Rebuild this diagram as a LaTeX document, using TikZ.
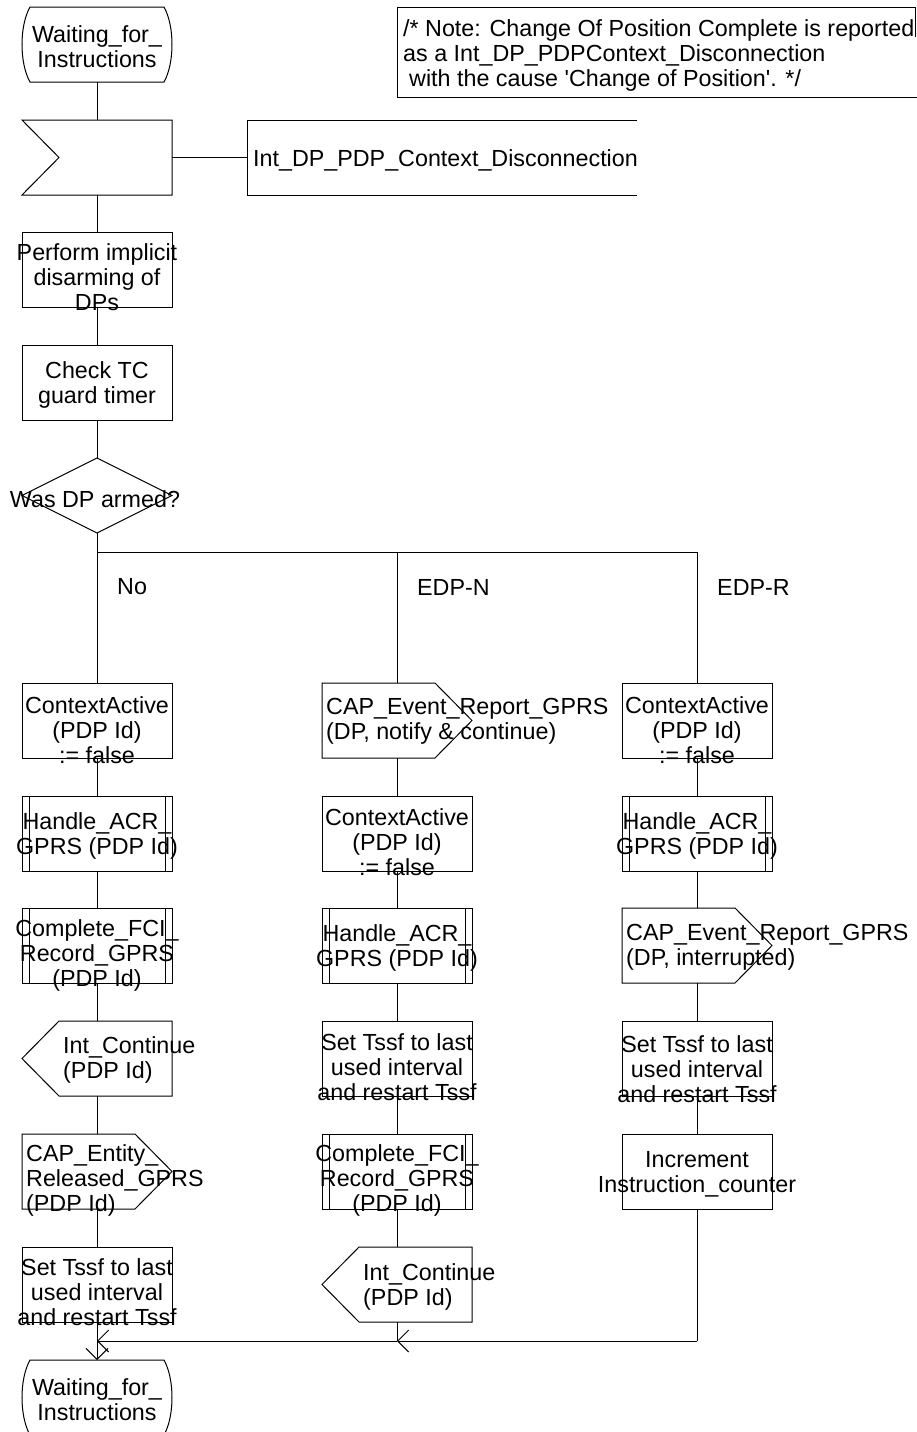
\documentclass[tikz,border=0pt]{standalone}
\usepackage{fontspec}
\newfontfamily\diafont{Liberation Sans}
\usetikzlibrary{arrows.meta}
\tikzset{
  ln/.style={line width=1pt, draw=black},
  sh/.style={minimum width=150pt, minimum height=75pt, inner sep=0pt, outer sep=0pt},
  rbox/.style={sh, draw=black, line width=1pt},
  tx/.style={font=\diafont\fontsize{23.3}{25}\selectfont, align=center, inner sep=0pt},
  txl/.style={font=\diafont\fontsize{23.3}{25}\selectfont, align=left, anchor=west, inner sep=0pt},
  arr/.style={-{Straight Barb[length=11pt,width=22pt]}},
}
\newcommand\sdlstate[1]{\draw[ln] ([shift={(8,0)}]#1.north west) -- ([shift={(-8,0)}]#1.north east)
  .. controls ([shift={(2.67,19)}]#1.north east) and ([shift={(2.67,-19)}]#1.south east) .. ([shift={(-8,0)}]#1.south east)
  -- ([shift={(8,0)}]#1.south west)
  .. controls ([shift={(-2.67,-19)}]#1.south west) and ([shift={(-2.67,19)}]#1.north west) .. ([shift={(8,0)}]#1.north west) -- cycle;}
\newcommand\sdlinput[1]{\draw[ln] (#1.north west) -- (#1.north east) -- (#1.south east) -- (#1.south west) -- ([shift={(37,0)}]#1.west) -- cycle;}
\newcommand\sdloutL[1]{\draw[ln] ([shift={(37,0)}]#1.north west) -- (#1.north east) -- (#1.south east) -- ([shift={(37,0)}]#1.south west) -- (#1.west) -- cycle;}
\newcommand\sdloutR[1]{\draw[ln] (#1.north west) -- ([shift={(-37,0)}]#1.north east) -- (#1.east) -- ([shift={(-37,0)}]#1.south east) -- (#1.south west) -- cycle;}
\newcommand\sdlproc[1]{\draw[ln] (#1.north west) rectangle (#1.south east);
  \draw[ln] ([shift={(7,0)}]#1.north west) -- ([shift={(7,0)}]#1.south west);
  \draw[ln] ([shift={(-7,0)}]#1.north east) -- ([shift={(-7,0)}]#1.south east);}
\newcommand\sdldec[1]{\draw[ln] (#1.north) -- (#1.east) -- (#1.south) -- (#1.west) -- cycle;}
\begin{document}
\begin{tikzpicture}[x=1pt,y=-1pt]
\useasboundingbox (0,0) rectangle (917,1432);
% ---------- top part ----------
\node[sh] (s1) at (97,44.5) {}; \sdlstate{s1}
\node[tx] (s1t) at (97,46.5) {Waiting\_for\_\\Instructions};
\node[sh] (in1) at (97,157.5) {}; \sdlinput{in1}
\node[sh, minimum width=390pt] (te) at (442,157.5) {};
\draw[ln] (te.north east) -- (te.north west) -- (te.south west) -- (te.south east);
\node[txl] (tet) at (253,160) {Int\_DP\_PDP\_Context\_Disconnection};
\node[sh, minimum width=518pt, minimum height=90pt] (nb) at (656,52) {};
\draw[ln] ([shift={(0,30)}]nb.north east) -- (nb.north east) -- (nb.north west) -- (nb.south west) -- ([shift={(3,0)}]nb.south east);
\node[txl] (nbt) at (403,55) {/* Note: Change Of Position Complete is reported\\as a Int\_DP\_PDPContext\_Disconnection\\\hspace*{6pt}with the cause 'Change of Position'. */};
\node[rbox] (t1) at (97,269.5) {};
\node[tx] (t1t) at (97,277) {Perform implicit\\disarming of\\DPs};
\node[rbox] (t2) at (97,382.5) {};
\node[tx] (t2t) at (97,384.5) {Check TC\\guard timer};
\node[sh] (dec) at (97,495.5) {}; \sdldec{dec}
\node[tx] (dect) at (95,499) {Was DP armed?};
\draw[ln] (s1) -- (in1);
\draw[ln] (in1) -- (te);
\draw[ln] (in1) -- (t1);
\draw[ln] (t1) -- (t2);
\draw[ln] (t2) -- (dec);
% ---------- branching ----------
\coordinate (b1) at (97,552);
\coordinate (b2) at (397,552);
\coordinate (b3) at (697,552);
\node[txl] (lno) at (117,587) {No};
\node[txl] (ln2) at (417,587) {EDP-N};
\node[txl] (ln3) at (717,587) {EDP-R};
% ---------- column 1 ----------
\node[rbox] (c1a) at (97,720.5) {};
\node[tx] (c1at) at (97,730) {ContextActive\\(PDP Id)\\:= false};
\node[sh] (c1b) at (97,833.5) {}; \sdlproc{c1b}
\node[tx] (c1bt) at (97,835.5) {Handle\_ACR\_\\GPRS (PDP Id)};
\node[sh] (c1c) at (97,945.5) {}; \sdlproc{c1c}
\node[tx] (c1ct) at (97,955) {Complete\_FCI\_\\Record\_GPRS\\(PDP Id)};
\node[sh] (c1d) at (97,1058.5) {}; \sdloutL{c1d}
\node[txl] (c1dt) at (63,1060) {Int\_Continue\\(PDP Id)};
\node[sh] (c1e) at (97,1171.5) {}; \sdloutR{c1e}
\node[txl] (c1et) at (26,1180) {CAP\_Entity\_\\Released\_GPRS\\(PDP Id)};
\node[rbox] (c1f) at (97,1284.5) {};
\node[tx] (c1ft) at (97,1292) {Set Tssf to last\\used interval\\and restart Tssf};
\node[sh] (s2) at (97,1397.5) {}; \sdlstate{s2}
\node[tx] (s2t) at (97,1399.5) {Waiting\_for\_\\Instructions};
% ---------- column 2 ----------
\node[sh] (c2a) at (397,720.5) {}; \sdloutR{c2a}
\node[txl] (c2at) at (326,721.5) {CAP\_Event\_Report\_GPRS\\(DP, notify \& continue)};
\node[rbox] (c2b) at (397,833.5) {};
\node[tx] (c2bt) at (397,842) {ContextActive\\(PDP Id)\\:= false};
\node[sh] (c2c) at (397,945.5) {}; \sdlproc{c2c}
\node[tx] (c2ct) at (397,947.5) {Handle\_ACR\_\\GPRS (PDP Id)};
\node[rbox] (c2d) at (397,1058.5) {};
\node[tx] (c2dt) at (397,1067) {Set Tssf to last\\used interval\\and restart Tssf};
\node[sh] (c2e) at (397,1171.5) {}; \sdlproc{c2e}
\node[tx] (c2et) at (397,1180) {Complete\_FCI\_\\Record\_GPRS\\(PDP Id)};
\node[sh] (c2f) at (397,1284.5) {}; \sdloutL{c2f}
\node[txl] (c2ft) at (363,1286.5) {Int\_Continue\\(PDP Id)};
% ---------- column 3 ----------
\node[rbox] (c3a) at (697,720.5) {};
\node[tx] (c3at) at (697,730) {ContextActive\\(PDP Id)\\:= false};
\node[sh] (c3b) at (697,833.5) {}; \sdlproc{c3b}
\node[tx] (c3bt) at (697,835.5) {Handle\_ACR\_\\GPRS (PDP Id)};
\node[sh] (c3c) at (697,945.5) {}; \sdloutR{c3c}
\node[txl] (c3ct) at (626,947.5) {CAP\_Event\_Report\_GPRS\\(DP, interrupted)};
\node[rbox] (c3d) at (697,1058.5) {};
\node[tx] (c3dt) at (697,1069) {Set Tssf to last\\used interval\\and restart Tssf};
\node[rbox] (c3e) at (697,1171.5) {};
\node[tx] (c3et) at (697,1174.5) {Increment\\Instruction\_counter};
% ---------- connectors ----------
\draw[ln] (dec.south) -- (b1) -- (b3);
\draw[ln] (b1) -- (c1a.north);
\draw[ln] (b2) -- (c2a.north);
\draw[ln] (b3) -- (c3a.north);
\draw[ln] (c1a) -- (c1b);
\draw[ln] (c1b) -- (c1c);
\draw[ln] (c1c) -- (c1d);
\draw[ln] (c1d) -- (c1e);
\draw[ln] (c1e) -- (c1f);
\draw[ln] (c2a) -- (c2b);
\draw[ln] (c2b) -- (c2c);
\draw[ln] (c2c) -- (c2d);
\draw[ln] (c2d) -- (c2e);
\draw[ln] (c2e) -- (c2f);
\draw[ln] (c3a) -- (c3b);
\draw[ln] (c3b) -- (c3c);
\draw[ln] (c3c) -- (c3d);
\draw[ln] (c3d) -- (c3e);
\coordinate (m1) at (97,1341);
\coordinate (m2) at (397,1341);
\coordinate (m3) at (697,1341);
\draw[ln] (c3e.south) -- (m3);
\draw[ln] (c2f.south) -- (m2);
\draw[ln, arr] (m3) -- (m2);
\draw[ln, arr] (m2) -- (m1);
\draw[ln, arr] (c1f.south) -- (s2.north);
\end{tikzpicture}
\end{document}
